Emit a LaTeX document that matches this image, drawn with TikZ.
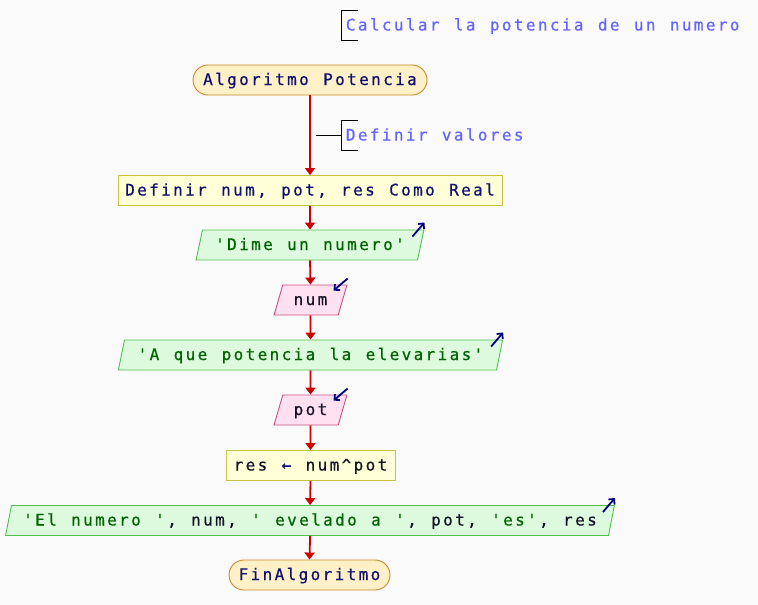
\documentclass[tikz,border=0pt]{standalone}
\usepackage{fontspec}
\newfontfamily\code[FakeBold=0.6]{DejaVu Sans Mono}
\usetikzlibrary{shapes.geometric,arrows.meta}
\definecolor{bg}{HTML}{FAFAFA}
\definecolor{termfill}{HTML}{FFF0C8}
\definecolor{termdraw}{HTML}{C8882A}
\definecolor{procfill}{HTML}{FFFFD8}
\definecolor{procdraw}{HTML}{C8C040}
\definecolor{outfill}{HTML}{DEFADE}
\definecolor{outdraw}{HTML}{50C050}
\definecolor{infill}{HTML}{FFE0F0}
\definecolor{indraw}{HTML}{C85080}
\definecolor{flowc}{HTML}{CC0000}
\definecolor{kw}{HTML}{101070}
\definecolor{strc}{HTML}{006400}
\definecolor{varc}{HTML}{141428}
\definecolor{cmt}{HTML}{6464FF}
\definecolor{iconc}{HTML}{000080}
\ExplSyntaxOn
\NewDocumentCommand\mono{m}{\str_map_inline:nn {#1} {\makebox[12pt]{##1}}}
\ExplSyntaxOff
\begin{document}
\begin{tikzpicture}[x=1pt,y=-1pt,
  font={\code\fontsize{16pt}{19pt}\selectfont},
  txt/.style={text height=12pt, text depth=2pt},
  term/.style={txt, draw=termdraw, fill=termfill, rounded corners=15pt, minimum height=30pt, inner sep=0pt, text=kw, line width=0.9pt},
  proc/.style={txt, draw=procdraw, fill=procfill, minimum height=30pt, inner sep=0pt, line width=0.9pt},
  outp/.style={txt, trapezium, trapezium left angle=68, trapezium right angle=112, trapezium stretches=true, draw=outdraw, fill=outfill, minimum height=30pt, inner sep=0pt, line width=0.9pt},
  inp/.style={txt, trapezium, trapezium left angle=68, trapezium right angle=112, trapezium stretches=true, draw=indraw, fill=infill, minimum height=30pt, inner sep=0pt, line width=0.9pt},
  flowline/.style={draw=flowc, line width=1.8pt, -{Triangle[length=7pt,width=10pt]}},
  icon/.style={draw=iconc, line width=1.8pt, -{Straight Barb[length=4pt,width=8pt]}},
  cmtnode/.style={text=cmt, inner sep=0pt, anchor=base west},
  bracket/.style={draw=black, line width=0.9pt}]
\fill[bg] (0,0) rectangle (758,605);
\useasboundingbox (0,0) rectangle (758,605);

% comments
\node[cmtnode] (c1) at (344.5,30.5) {\mono{Calcular la potencia de un numero}};
\draw[bracket] (358,10) -- (341,10) -- (341,40) -- (358,40);
\node[cmtnode] (c2) at (344.5,140.5) {\mono{Definir valores}};
\draw[bracket] (358,120) -- (341,120) -- (341,150) -- (358,150);
\coordinate (c2l) at (316,135);
\draw[bracket] (c2l) -- (341,135);

% flow nodes
\node[term, minimum width=234pt] (start) at (310,80) {\mono{Algoritmo Potencia}};
\node[proc, minimum width=384pt, text=kw] (def) at (310,190.5) {\mono{Definir num, pot, res Como Real}};
\node[outp, minimum width=228pt, text=strc] (dime) at (310,245) {\mono{'Dime un numero'}};
\node[inp, minimum width=73pt, text=varc] (num) at (310.5,300) {\mono{num}};
\node[outp, minimum width=385pt, text=strc] (aque) at (310.5,355) {\mono{'A que potencia la elevarias'}};
\node[inp, minimum width=73pt, text=varc] (pot) at (310.5,410) {\mono{pot}};
\node[proc, minimum width=169pt, text=varc] (res) at (310.5,465.5) {\mono{res }\textcolor{kw}{\mono{←}}\mono{ num^pot}};
\node[outp, minimum width=612pt, text=varc] (out) at (310,520.5) {\textcolor{strc}{\mono{'El numero '}}\mono{, num, }\textcolor{strc}{\mono{' evelado a '}}\mono{, pot, }\textcolor{strc}{\mono{'es'}}\mono{, res}};
\node[term, minimum width=161pt] (fin) at (309.5,575) {\mono{FinAlgoritmo}};

% connectors
\draw[flowline] (start.south) -- (def.north);
\draw[flowline] (def.south) -- (dime.north);
\draw[flowline] (dime.south) -- (num.north);
\draw[flowline] (num.south) -- (aque.north);
\draw[flowline] (aque.south) -- (pot.north);
\draw[flowline] (pot.south) -- (res.north);
\draw[flowline] (res.south) -- (out.north);
\draw[flowline] (out.south) -- (fin.north);

% io icons
\draw[icon] ([shift={(-12,7)}]dime.top right corner) -- ([shift={(0,-7)}]dime.top right corner);
\draw[icon] ([shift={(-12,7)}]aque.top right corner) -- ([shift={(0,-7)}]aque.top right corner);
\draw[icon] ([shift={(-12,7)}]out.top right corner) -- ([shift={(0,-7)}]out.top right corner);
\draw[icon] ([shift={(0,-6)}]num.top right corner) -- ([shift={(-14,6)}]num.top right corner);
\draw[icon] ([shift={(0,-6)}]pot.top right corner) -- ([shift={(-14,6)}]pot.top right corner);
\end{tikzpicture}
\end{document}
